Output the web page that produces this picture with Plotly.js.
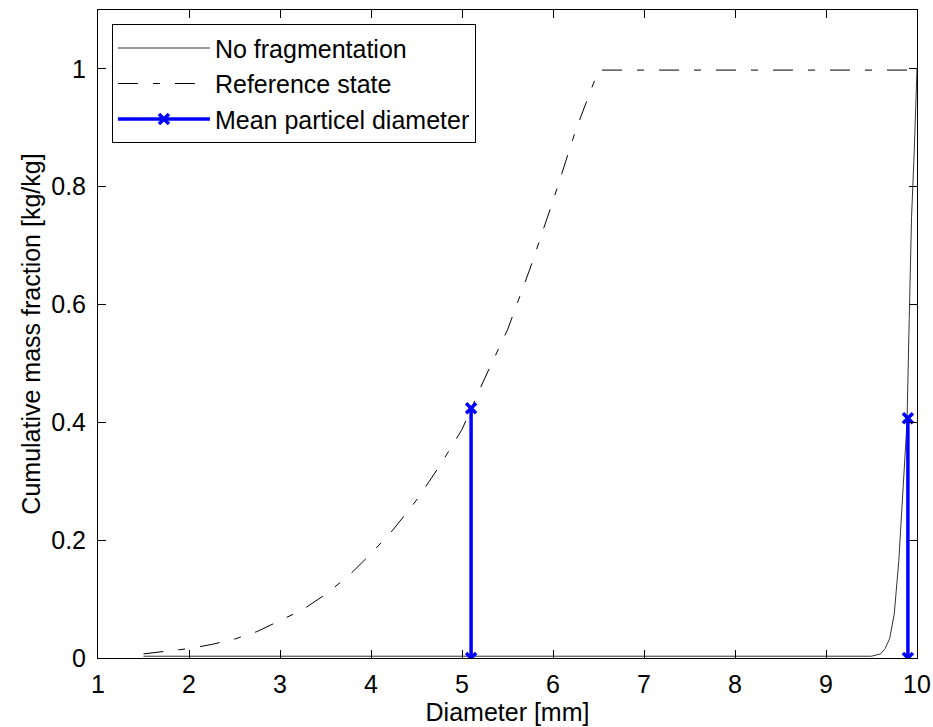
<!DOCTYPE html>
<html>
<head>
<meta charset="utf-8">
<script src="https://cdn.plot.ly/plotly-3.0.1.min.js"></script>
<style>html,body{margin:0;padding:0;background:#fff}#chart{width:933px;height:727px}</style>
</head>
<body>
<div id="chart"></div>
<script>
// Reference state (dash-dot curve)
const refX = [1.5, 1.75, 2.0, 2.25, 2.5, 2.75, 3.0, 3.25, 3.5, 3.75, 4.0, 4.25, 4.5, 4.75, 5.0, 5.25, 5.5, 5.75, 6.0, 6.25, 6.5, 10];
const refY = [0.007, 0.012, 0.016, 0.023, 0.032, 0.045, 0.063, 0.082, 0.108, 0.139, 0.177, 0.219, 0.268, 0.325, 0.388, 0.475, 0.557, 0.662, 0.776, 0.896, 0.998, 0.998];

// No fragmentation (solid curve)
const noFragX = [1.5, 9.5, 9.6, 9.65, 9.7, 9.75, 9.8, 9.85, 9.89, 9.915, 9.94, 9.97, 9.99, 10];
const noFragY = [0.003, 0.003, 0.007, 0.016, 0.033, 0.075, 0.165, 0.29, 0.40, 0.578, 0.748, 0.862, 0.95, 1.0];

// Mean particle diameter (two vertical stems)
const meanX = [5.1, 5.1, null, 9.9, 9.9];
const meanY = [0, 0.424, null, 0, 0.407];

const xTicks = [1, 2, 3, 4, 5, 6, 7, 8, 9, 10];
const yTicks = [0, 0.2, 0.4, 0.6, 0.8, 1];
const yTickText = ['0', '0.2', '0.4', '0.6', '0.8', '1'];

const FONT = 'Liberation Sans, Arial, Helvetica, sans-serif';
const FS = 25;

const traces = [
  {x: noFragX, y: noFragY, name: 'No fragmentation', mode: 'lines',
   line: {color: '#333333', width: 1}},
  {x: refX, y: refY, name: 'Reference state', mode: 'lines',
   line: {color: '#000000', width: 1, dash: '20px,15px,7px,15px'}},
  {x: meanX, y: meanY, name: 'Mean particel diameter', mode: 'lines+markers',
   line: {color: '#0000ff', width: 3.5},
   marker: {symbol: 'x-thin', size: 10, color: '#0000ff', line: {color: '#0000ff', width: 3.5}}}
];

const axisCommon = {
  showline: true, linecolor: '#000', linewidth: 1, mirror: 'ticks',
  ticks: 'inside', ticklen: 8, tickcolor: '#000', tickwidth: 1,
  showgrid: false, zeroline: false,
  tickfont: {family: FONT, size: FS, color: '#000'}
};

const layout = {
  width: 933, height: 727,
  margin: {l: 98, r: 16, t: 10, b: 69},
  paper_bgcolor: '#fff', plot_bgcolor: '#fff',
  font: {family: FONT, color: '#000'},
  xaxis: Object.assign({}, axisCommon, {
    range: [1, 10], tickvals: xTicks, ticktext: xTicks.map(String),
    ticklabelstandoff: 4,
    title: {text: 'Diameter [mm]', font: {family: FONT, size: FS, color: '#000'}, standoff: 0}
  }),
  yaxis: Object.assign({}, axisCommon, {
    range: [0, 1.1], tickvals: yTicks, ticktext: yTickText,
    ticklabelstandoff: 6,
    title: {text: 'Cumulative mass fraction [kg/kg]', font: {family: FONT, size: FS, color: '#000'}, standoff: 3}
  }),
  showlegend: true,
  legend: {
    x: 0.017, y: 0.978, xanchor: 'left', yanchor: 'top',
    bgcolor: '#fff', bordercolor: '#000', borderwidth: 1,
    font: {family: FONT, size: FS, color: '#000'},
    itemwidth: 92, tracegroupgap: 0
  }
};

Plotly.newPlot('chart', traces, layout, {displayModeBar: false, staticPlot: true});
</script>
</body>
</html>
